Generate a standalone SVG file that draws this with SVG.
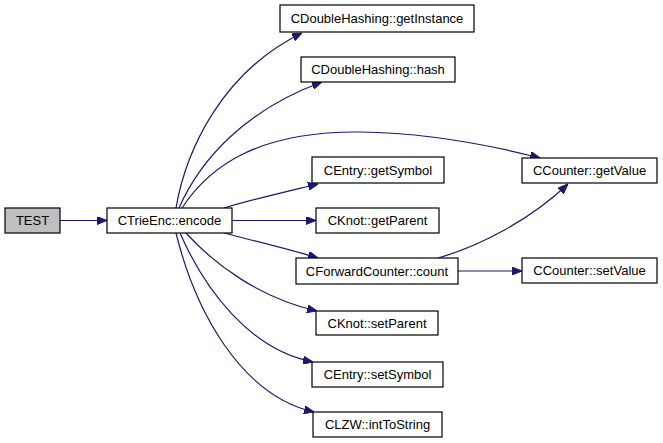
<svg xmlns="http://www.w3.org/2000/svg" width="663" height="443" viewBox="0 0 663 443">
<defs>
<marker id="ah" markerWidth="10" markerHeight="8" refX="10" refY="4" orient="auto" markerUnits="userSpaceOnUse" viewBox="0 0 10 8">
<path d="M0,0 L10,4 L0,8 Z" fill="#191970" stroke="#191970" stroke-width="1"/>
</marker>
<style>
.n rect{fill:#ffffff;stroke:#000000;stroke-width:1.2}
.n text{font-family:"Liberation Sans",Arial,sans-serif;font-size:13px;fill:#000000;text-anchor:middle}
#n_test rect{fill:#bfbfbf}
.e path{fill:none;stroke:#191970;stroke-width:1.2;marker-end:url(#ah)}
</style>
</defs>
<rect width="663" height="443" fill="#ffffff"/>
<g id="edges" class="e">
<path d="M60,220.5 L107,220.5"/>
<path d="M176,208 C186,150 222,72 302,33"/>
<path d="M179,208 C200,160 245,110 322,82"/>
<path d="M182,208 C210,165 260,131 360,132 C430,133 490,145 540,158"/>
<path d="M224,208 C250,200 285,192 318,184"/>
<path d="M232,220.5 L316,220.5"/>
<path d="M224,233 C250,240 285,248 318,258"/>
<path d="M186,233 C215,265 260,298 317,311"/>
<path d="M180,233 C205,290 250,350 313,362"/>
<path d="M176,233 C195,310 240,395 314,412"/>
<path d="M438,258 C480,246 530,220 568,184"/>
<path d="M458,271 L522,271"/>
</g>
<g id="n_test" class="n"><rect x="5" y="208" width="55" height="25"/><text x="32.5" y="225">TEST</text></g>
<g id="n_encode" class="n"><rect x="107" y="208" width="125" height="25"/><text x="169.5" y="225">CTrieEnc::encode</text></g>
<g id="n_getInstance" class="n"><rect x="280" y="5" width="194" height="27"/><text x="377" y="23">CDoubleHashing::getInstance</text></g>
<g id="n_hash" class="n"><rect x="301" y="57" width="154" height="25"/><text x="378" y="74">CDoubleHashing::hash</text></g>
<g id="n_getSymbol" class="n"><rect x="312" y="157" width="132" height="26"/><text x="378" y="175">CEntry::getSymbol</text></g>
<g id="n_getParent" class="n"><rect x="316" y="208" width="123" height="25"/><text x="377.5" y="225">CKnot::getParent</text></g>
<g id="n_count" class="n"><rect x="296" y="258" width="162" height="26"/><text x="377" y="276">CForwardCounter::count</text></g>
<g id="n_setParent" class="n"><rect x="316" y="311" width="122" height="24"/><text x="377" y="328">CKnot::setParent</text></g>
<g id="n_setSymbol" class="n"><rect x="312" y="362" width="131" height="25"/><text x="377.5" y="379">CEntry::setSymbol</text></g>
<g id="n_intToString" class="n"><rect x="313" y="412" width="129" height="25"/><text x="377.5" y="429">CLZW::intToString</text></g>
<g id="n_getValue" class="n"><rect x="522" y="158" width="135" height="25"/><text x="589.5" y="175">CCounter::getValue</text></g>
<g id="n_setValue" class="n"><rect x="522" y="258" width="135" height="25"/><text x="589.5" y="275">CCounter::setValue</text></g>
</svg>
